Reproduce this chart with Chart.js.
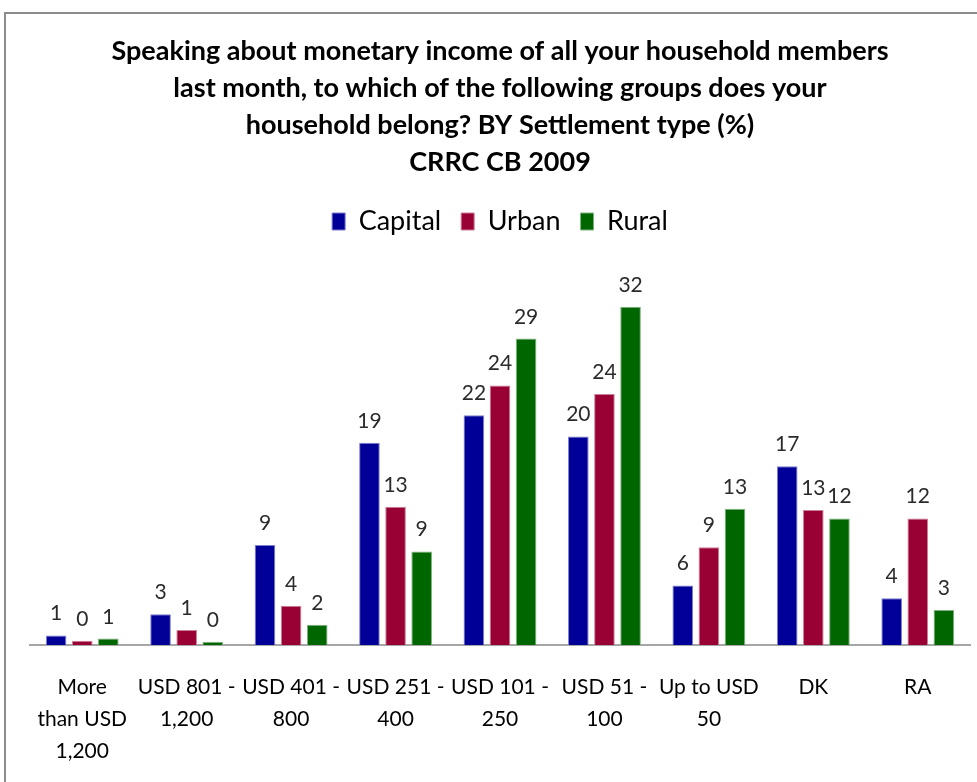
<!DOCTYPE html>
<html>
<head>
<meta charset="utf-8">
<script src="https://cdn.jsdelivr.net/npm/chart.js@4"></script>
<style>
  html, body { margin: 0; padding: 0; background: #fff; overflow: hidden; }
  .frame {
    position: absolute; left: 4px; top: 12px; width: 1000px; height: 800px;
    border: 2px solid #8c8c8c; box-sizing: border-box;
  }
  #chart-wrap { position: absolute; left: 0; top: 0; width: 977px; height: 782px; }
</style>
</head>
<body>
<div class="frame"></div>
<div id="chart-wrap"><canvas id="income-chart"></canvas></div>
<script>
const categories = [
  ['More', 'than USD', '1,200'],
  ['USD 801 -', '1,200'],
  ['USD 401 -', '800'],
  ['USD 251 -', '400'],
  ['USD 101 -', '250'],
  ['USD 51 -', '100'],
  ['Up to USD', '50'],
  ['DK'],
  ['RA']
];
const seriesNames = ['Capital', 'Urban', 'Rural'];
const capital = [0.9, 2.9, 9.4, 19.0, 21.6, 19.6, 5.6, 16.8, 4.4];
const urban = [0.4, 1.4, 3.7, 13.0, 24.4, 23.6, 9.2, 12.7, 11.9];
const rural = [0.6, 0.3, 1.9, 8.8, 28.8, 31.8, 12.8, 11.9, 3.3];

const titleLines = [
  'Speaking about monetary income of all your household members',
  'last month, to which of the following groups does your',
  'household belong? BY Settlement type (%)',
  'CRRC CB 2009'
];

const FONT = 'Lato, "Open Sans", sans-serif';

// writes the rounded value above each bar
const valueLabels = {
  id: 'valueLabels',
  afterDatasetsDraw(chart) {
    const ctx = chart.ctx;
    ctx.save();
    ctx.font = '21px ' + FONT;
    ctx.fillStyle = '#2b2b2b';
    ctx.textAlign = 'center';
    ctx.textBaseline = 'alphabetic';
    chart.data.datasets.forEach((ds, i) => {
      chart.getDatasetMeta(i).data.forEach((bar, j) => {
        ctx.fillText(String(Math.round(ds.data[j])), bar.x, bar.y - 15);
      });
    });
    ctx.restore();
  }
};

function makeDataset(label, data, fill, edge) {
  return {
    label,
    data,
    backgroundColor: fill,
    borderColor: edge,
    borderWidth: 1,
    categoryPercentage: 0.75,
    barPercentage: 0.79
  };
}

new Chart(document.getElementById('income-chart'), {
  type: 'bar',
  data: {
    labels: categories,
    datasets: [
      makeDataset(seriesNames[0], capital, '#000099', '#7f7fcc'),
      makeDataset(seriesNames[1], urban, '#990033', '#cc7f99'),
      makeDataset(seriesNames[2], rural, '#006600', '#7fb27f')
    ]
  },
  options: {
    responsive: true,
    maintainAspectRatio: false,
    animation: false,
    layout: { padding: { left: 30, right: 7, top: 0, bottom: -11 } },
    plugins: {
      title: {
        display: true,
        text: titleLines,
        color: '#000',
        font: { family: FONT, size: 27, weight: 'bold', lineHeight: 37 / 27 },
        padding: { top: 33, bottom: 7 }
      },
      legend: {
        position: 'top',
        labels: {
          color: '#000',
          font: { family: FONT, size: 27 },
          boxWidth: 13,
          boxHeight: 17,
          padding: 20
        }
      },
      tooltip: { enabled: false }
    },
    scales: {
      x: {
        grid: { display: false, drawTicks: false },
        border: { color: '#a6a6a6', width: 2 },
        ticks: {
          color: '#000',
          font: { family: FONT, size: 21, lineHeight: 32 / 21 },
          padding: 26,
          maxRotation: 0,
          autoSkip: false
        }
      },
      y: {
        display: false,
        min: 0,
        max: 37.6
      }
    }
  },
  plugins: [valueLabels]
});
</script>
</body>
</html>
